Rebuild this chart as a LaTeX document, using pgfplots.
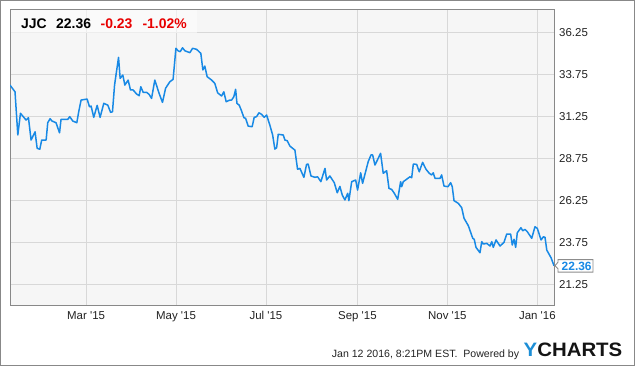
\documentclass[border=0pt]{standalone}
\usepackage{pgfplots}
\pgfplotsset{compat=1.18}
\usepackage{pgfplotstable}
\usepackage{fontspec}
\setmainfont{Liberation Sans}

\definecolor{linec}{RGB}{24,137,229}
\definecolor{plotbg}{RGB}{246,246,246}
\definecolor{gridc}{RGB}{216,216,216}
\definecolor{framec}{RGB}{136,136,136}
\definecolor{downred}{RGB}{232,0,0}
\definecolor{tickc}{RGB}{34,34,34}
\definecolor{logoblue}{RGB}{28,142,214}
\definecolor{tagc}{RGB}{140,140,140}

% JJC closing prices; day = days since 1 Jan 2015
\pgfplotstableread{
day price
7.4 33.11
10.8 32.71
12.7 30.14
14.5 31.43
18.3 31.03
19.9 31.17
21.7 29.84
24.4 30.33
25.8 29.35
27.6 29.29
28.9 29.84
31.9 29.84
33.0 30.87
34.6 31.11
35.9 30.97
38.6 30.87
41.0 30.27
42.0 31.07
46.6 31.07
47.9 31.23
50.0 30.97
52.7 30.87
54.0 31.52
55.6 32.22
59.7 32.28
61.3 31.82
62.4 31.86
64.2 31.19
66.5 31.90
68.5 31.19
71.0 32.02
73.7 31.92
75.6 31.49
76.9 31.52
78.3 33.11
81.0 34.76
82.1 33.51
83.9 33.71
85.3 33.11
87.5 33.41
89.1 32.82
90.9 32.82
93.2 32.58
95.0 32.48
96.1 33.01
97.7 32.68
100.0 32.68
101.7 32.56
103.4 32.32
105.6 33.41
108.5 32.62
110.8 32.08
112.9 32.92
115.8 33.31
118.0 33.45
119.9 35.30
121.4 35.15
122.8 35.10
124.4 35.33
126.0 35.15
129.4 35.04
131.2 35.30
133.9 35.24
136.8 35.00
138.2 34.01
139.5 34.24
141.1 33.61
144.1 33.41
146.3 33.21
148.2 32.65
150.9 32.46
152.4 32.71
154.0 32.12
156.5 32.22
157.7 32.22
159.2 32.42
160.4 32.86
161.3 32.02
162.8 31.92
164.4 31.58
166.0 31.17
167.2 31.13
168.9 30.67
171.6 30.63
173.0 31.19
174.6 31.23
176.2 31.46
178.0 31.37
179.8 31.19
181.4 31.33
183.6 30.73
185.5 30.14
187.0 29.30
188.2 29.38
189.3 30.18
192.7 30.14
193.8 29.84
195.4 29.80
197.2 29.48
200.6 29.24
202.4 28.10
204.0 28.15
206.7 27.62
208.5 28.39
209.6 28.41
211.5 27.70
214.2 27.62
216.0 27.65
218.2 27.36
221.0 28.15
222.1 27.46
224.3 27.70
227.3 27.30
229.3 26.70
231.1 27.08
232.7 26.57
234.5 26.27
236.4 26.67
237.2 26.23
239.1 27.36
241.8 27.46
243.1 26.86
245.2 27.89
246.5 27.26
250.3 28.55
252.2 28.95
253.3 28.95
254.9 28.35
257.1 28.75
258.7 29.05
260.5 27.86
262.8 28.01
264.4 26.96
266.2 26.90
268.0 26.67
270.3 26.31
272.3 27.36
273.0 27.06
274.1 27.36
278.6 27.65
279.8 27.60
280.9 28.41
283.2 28.39
284.9 27.95
287.2 28.51
289.5 28.10
291.7 27.86
293.3 27.76
294.4 27.89
295.6 27.56
299.0 27.56
300.1 27.76
301.7 27.10
304.4 27.06
306.2 27.30
307.3 27.06
308.5 26.23
311.4 26.07
313.7 25.81
315.3 25.18
318.2 24.74
321.2 23.99
322.2 23.93
323.4 23.45
326.1 23.13
327.3 23.79
328.4 23.65
330.7 23.69
332.9 23.53
334.1 23.79
335.1 23.45
337.0 23.89
339.7 23.53
342.4 23.75
344.2 24.24
346.9 24.24
348.0 23.59
349.2 23.93
350.3 23.45
351.4 24.32
353.9 24.62
355.1 24.44
356.6 24.52
358.2 24.38
361.2 23.99
363.4 24.68
365.0 24.58
367.5 23.89
369.1 24.08
370.2 24.05
371.4 23.29
374.3 22.83
376.3 22.36
}\pricedata

\begin{document}
\begin{tikzpicture}
\useasboundingbox (0,0) rectangle (635bp,366bp);
\begin{axis}[
  at={(10bp,60bp)}, anchor=south west,
  scale only axis, width=544bp, height=296bp,
  xmin=7.4, xmax=376.3, ymin=19.96, ymax=37.58,
  axis background/.style={fill=plotbg},
  axis line style={draw=framec, line width=1bp},
  grid=major,
  major grid style={draw=gridc, line width=1bp},
  major tick length=0pt,
  xtick={59,120,181,243,304,365},
  xticklabels={Mar \textquotesingle15, May \textquotesingle15, Jul \textquotesingle15,
                Sep \textquotesingle15, Nov \textquotesingle15, Jan \textquotesingle16},
  ytick={21.25,23.75,26.25,28.75,31.25,33.75,36.25},
  yticklabel pos=right,
  y tick label style={
    /pgf/number format/fixed, /pgf/number format/fixed zerofill,
    /pgf/number format/precision=2, /pgf/number format/assume math mode=true,
    anchor=west, inner sep=0pt, xshift=5bp,
    font=\fontsize{11.5}{12}\selectfont, text=tickc},
  x tick label style={anchor=base, inner sep=0pt, yshift=-14bp,
    font=\fontsize{11.5}{12}\selectfont, text=tickc},
  clip mode=individual,
]
\addplot[draw=linec, line width=1.5bp, line join=round, mark=none]
  table[x=day, y=price] {\pricedata};
\coordinate (last) at (axis cs:376.3,22.36);
\end{axis}

% last-price tag
\draw[draw=tagc, fill=white, line width=0.9bp, line join=miter]
  ([xshift=1bp]last) -- ++(3bp,3.5bp) -- ++(0,2.5bp) -- ++(35bp,0)
  -- ++(0,-12.5bp) -- ++(-35bp,0) -- ++(0,3.5bp) -- cycle;
\node[anchor=west, inner sep=0pt, text=linec,
      font=\bfseries\fontsize{12}{12}\selectfont]
  at ([xshift=7.5bp,yshift=-0.3bp]last) {22.36};

% quote header
\fill[white, opacity=0.55] (10.5bp,333bp) rectangle (197bp,355.5bp);
\begin{scope}[every node/.style={anchor=base west, inner sep=0pt,
    font=\bfseries\fontsize{14}{14}\selectfont}]
  \node at (21bp,337bp) {JJC};
  \node at (56bp,337bp) {22.36};
  \node[text=downred] at (100.5bp,337bp) {-0.23};
  \node[text=downred] at (142.3bp,337bp) {-1.02\%};
\end{scope}

% footer
\node[anchor=base west, inner sep=0pt, font=\fontsize{10.6}{12}\selectfont, text=tickc]
  at (331.7bp,9bp) {Jan 12 2016, 8:21PM EST.\ \ Powered by};
\node[anchor=base west, inner sep=0pt, font=\bfseries\fontsize{19.5}{20}\selectfont,
      xscale=1.05]
  at (523.5bp,9.3bp) {\textcolor{logoblue}{Y}\textcolor{black!92}{CHARTS}};

% outer frame
\draw[framec, line width=1bp] (0.5bp,0.5bp) rectangle (634.5bp,365.5bp);
\end{tikzpicture}
\end{document}
